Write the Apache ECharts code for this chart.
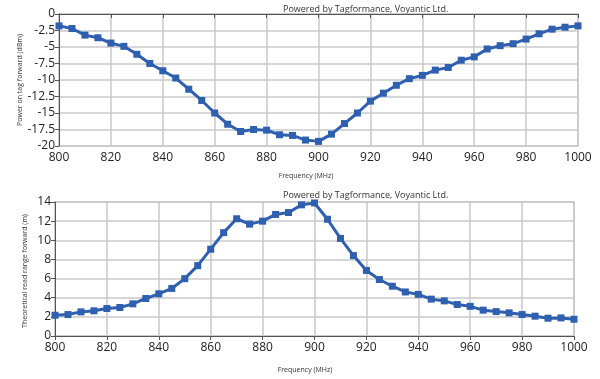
<!DOCTYPE html>
<html><head><meta charset="utf-8">
<script src="https://cdn.jsdelivr.net/npm/echarts@6/dist/echarts.min.js"></script>
<style>html,body{margin:0;padding:0;background:#fff}#c{width:600px;height:379px}</style>
</head><body><div id="c"></div>
<script>
const freqs = [800,805,810,815,820,825,830,835,840,845,850,855,860,865,870,875,880,885,890,895,900,905,910,915,920,925,930,935,940,945,950,955,960,965,970,975,980,985,990,995,1000];
const powerDbm = [-1.8,-2.2,-3.2,-3.6,-4.4,-4.9,-6.1,-7.5,-8.6,-9.7,-11.4,-13.1,-15.0,-16.7,-17.8,-17.5,-17.6,-18.3,-18.4,-19.1,-19.3,-18.2,-16.6,-15.0,-13.2,-12.0,-10.8,-9.8,-9.3,-8.5,-8.1,-7.0,-6.5,-5.3,-4.8,-4.5,-3.8,-3.0,-2.3,-2.0,-1.8];
const readRange = [2.17,2.24,2.52,2.63,2.87,2.98,3.36,3.92,4.41,4.97,5.99,7.35,9.07,10.8,12.25,11.69,12.0,12.7,12.9,13.7,13.9,12.2,10.2,8.4,6.85,5.9,5.2,4.6,4.35,3.85,3.67,3.29,3.1,2.7,2.55,2.42,2.24,2.07,1.86,1.89,1.75];
const titleText = "Powered by Tagformance, Voyantic Ltd.";
const xName = "Frequency (MHz)";
const yName1 = "Power on tag forward (dBm)";
const yName2 = "Theoretical read range forward (m)";

const chart = echarts.init(document.getElementById('c'), null, {renderer:'canvas'});
const FONT = '"Open Sans", sans-serif';
const lineColor = '#2f5faf';
function xAxis(gi){
  return {type:'value', gridIndex:gi, min:800, max:1000, interval:20,
    axisLine:{show:true, lineStyle:{color:'#555', width:1}},
    axisTick:{show:true, length:4, lineStyle:{color:'#555'}},
    axisLabel:{color:'#222', fontSize:12, fontFamily:FONT, margin:6, formatter:v=>String(v)},
    splitLine:{show:true, lineStyle:{color:'#c8c8c8', width:1.5}}};
}
function yAxis(gi, min, max, interval){
  return {type:'value', gridIndex:gi, min:min, max:max, interval:interval,
    axisLine:{show:true, lineStyle:{color:'#555', width:1}},
    axisTick:{show:true, length:4, lineStyle:{color:'#555'}},
    axisLabel:{color:'#222', fontSize:12, fontFamily:FONT, margin:4, formatter:v=>String(v)},
    splitLine:{show:true, lineStyle:{color:'#c8c8c8', width:1.5}}};
}
chart.setOption({
  animation:false,
  grid:[
    {left:59, right:22, top:14, bottom:233, show:true, borderColor:'#c8c8c8', borderWidth:1.5, backgroundColor:'transparent'},
    {left:55, right:26, top:202, bottom:43, show:true, borderColor:'#c8c8c8', borderWidth:1.5, backgroundColor:'transparent'}
  ],
  xAxis:[xAxis(0), xAxis(1)],
  yAxis:[yAxis(0,-20,0,2.5), yAxis(1,0,14,2)],
  graphic:[
    {type:'text', left:283, top:5, style:{text:titleText, fontSize:9, fontFamily:FONT, fill:'#333'}},
    {type:'text', left:283, top:191, style:{text:titleText, fontSize:9, fontFamily:FONT, fill:'#333'}},
    {type:'text', x:306, y:176, style:{text:xName, fontSize:7, fontFamily:FONT, fill:'#333', align:'center', verticalAlign:'middle'}},
    {type:'text', x:305, y:370, style:{text:xName, fontSize:7, fontFamily:FONT, fill:'#333', align:'center', verticalAlign:'middle'}},
    {type:'text', x:20, y:80, rotation:Math.PI/2, style:{text:yName1, fontSize:7, fontFamily:FONT, fill:'#333', align:'center', verticalAlign:'middle'}},
    {type:'text', x:25, y:271, rotation:Math.PI/2, style:{text:yName2, fontSize:7, fontFamily:FONT, fill:'#333', align:'center', verticalAlign:'middle'}}
  ],
  series:[
    {type:'line', xAxisIndex:0, yAxisIndex:0, data:freqs.map((f,i)=>[f,powerDbm[i]]),
     symbol:'rect', symbolSize:7, showAllSymbol:true, lineStyle:{color:lineColor, width:3}, itemStyle:{color:lineColor}},
    {type:'line', xAxisIndex:1, yAxisIndex:1, data:freqs.map((f,i)=>[f,readRange[i]]),
     symbol:'rect', symbolSize:7, showAllSymbol:true, lineStyle:{color:lineColor, width:3}, itemStyle:{color:lineColor}}
  ]
});
</script></body></html>
